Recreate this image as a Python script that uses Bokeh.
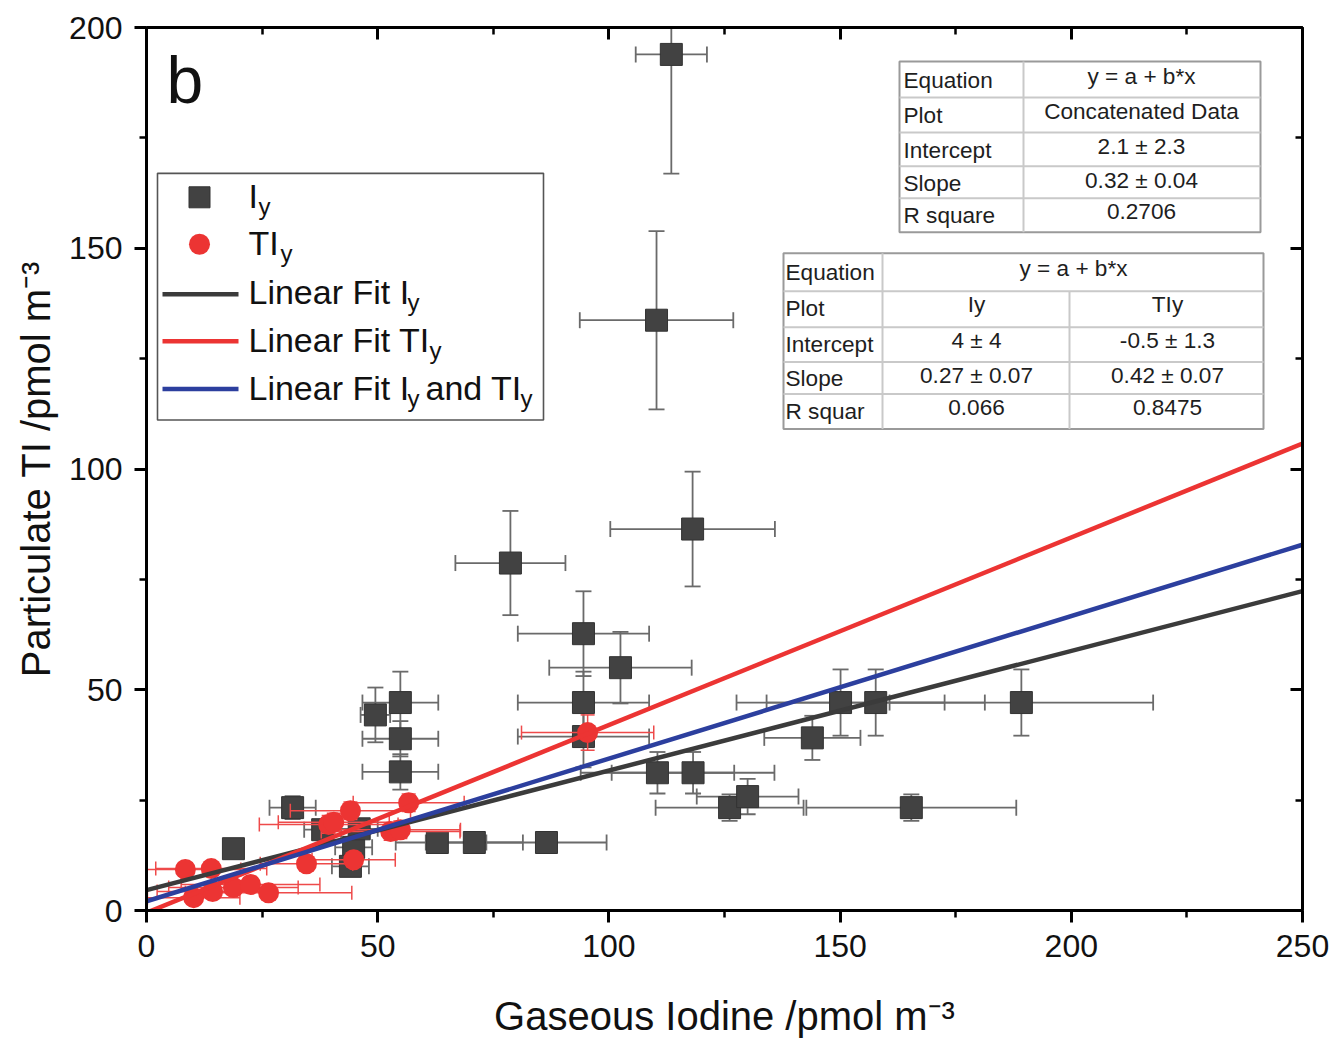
import numpy as np
from bokeh.plotting import figure
from bokeh.models import Range1d, SingleIntervalTicker, LinearAxis
from bokeh.core.properties import value
from bokeh.embed import file_html
from bokeh.resources import INLINE

# ---------------- data ----------------
# Iy (gray squares): gaseous iodine x, particulate TI y, with errors
iy_x = [113.5, 110.3, 118.1, 78.7, 94.5, 102.5, 94.5, 94.5, 110.5, 118.2,
        126.1, 130.0, 144.0, 150.1, 157.7, 189.2, 165.4, 62.9, 70.9, 86.5,
        49.5, 54.9, 54.9, 54.9, 18.8, 31.6, 38.1, 44.8, 44.1, 46.0]
iy_y = [193.9, 133.7, 86.4, 78.7, 62.7, 55.0, 47.1, 39.4, 31.2, 31.2,
        23.3, 25.8, 39.1, 47.1, 47.1, 47.1, 23.3, 15.4, 15.4, 15.4,
        44.3, 47.1, 38.9, 31.4, 14.0, 23.3, 18.3, 14.3, 10.0, 18.5]
iy_xerr = [7.7, 16.6, 17.8, 11.9, 14.2, 15.4, 14.2, 14.2, 16.6, 17.6,
           16.0, 11.0, 10.4, 22.5, 23.6, 28.5, 22.7, 9.0, 10.5, 13.0,
           3.2, 8.2, 8.2, 8.2, 1.0, 5.0, 4.0, 4.0, 4.0, 4.0]
iy_yerr = [27.0, 20.2, 13.0, 11.8, 9.6, 8.1, 7.0, 7.0, 4.7, 4.7,
           3.0, 4.0, 5.0, 7.5, 7.5, 7.5, 3.0, 1.5, 1.5, 1.5,
           6.2, 7.0, 4.0, 4.0, 1.0, 2.6, 1.5, 2.0, 1.5, 2.0]

# TIy (red circles)
tly_x = [8.4, 14.0, 10.2, 14.3, 18.8, 22.5, 26.4, 34.6, 39.4, 40.5,
         44.1, 44.8, 52.8, 54.9, 56.7, 95.4]
tly_y = [9.3, 9.5, 2.9, 4.3, 5.2, 5.9, 4.0, 10.6, 19.5, 20.0,
         22.6, 11.5, 17.9, 18.3, 24.4, 40.3]
tly_xerr = [12, 12, 10, 12, 14, 15, 18, 10, 15, 12,
            13, 9, 15, 13, 12, 14.3]
tly_yerr = [1.5, 1.5, 1.0, 1.0, 1.0, 1.0, 1.0, 1.5, 2.0, 2.0,
            2.0, 1.5, 2.0, 2.0, 2.0, 4.0]

# linear fits as drawn: Iy, TIy, Iy and TIy (concatenated)
fit_intercept = [4.6, -0.5, 2.1]
fit_slope = [0.271, 0.425, 0.323]

# fit result tables
table1_labels = ["Equation", "Plot", "Intercept", "Slope", "R square"]
table1_values = ["y = a + b*x", "Concatenated Data", "2.1 \u00b1 2.3", "0.32 \u00b1 0.04", "0.2706"]
table2_labels = ["Equation", "Plot", "Intercept", "Slope", "R squar"]
table2_equation = "y = a + b*x"
table2_iy = ["Iy", "4 \u00b1 4", "0.27 \u00b1 0.07", "0.066"]
table2_tly = ["TIy", "-0.5 \u00b1 1.3", "0.42 \u00b1 0.07", "0.8475"]

x_label = "Gaseous Iodine /pmol m\u207b\u00b3"
y_label = "Particulate TI /pmol m\u207b\u00b3"

# ---------------- layout ----------------
FONT = "Liberation Sans"
W, H = 1335, 1040
FL, FR, FT, FB = 146, 1302, 27, 911
XMAX, YMAX = 250, 200

def dx(px):
    return (px - FL) / (FR - FL) * XMAX

def dy(py):
    return (FB - py) / (FB - FT) * YMAX

p = figure(width=W, height=H, x_range=Range1d(0, XMAX), y_range=Range1d(0, YMAX),
           output_backend="svg", toolbar_location=None,
           min_border_left=FL, min_border_right=W - FR,
           min_border_top=FT, min_border_bottom=H - FB,
           x_axis_label=x_label, y_axis_label=y_label)
p.xgrid.visible = False
p.ygrid.visible = False
p.outline_line_color = "black"
p.outline_line_width = 2
p.background_fill_color = "white"
p.border_fill_color = "white"

for ax in (p.xaxis[0], p.yaxis[0]):
    ax.ticker = SingleIntervalTicker(interval=50, num_minor_ticks=2)
    ax.axis_line_width = 3
    ax.axis_line_color = "black"
    ax.major_tick_line_width = 3
    ax.minor_tick_line_width = 2.5
    ax.major_tick_out = 12
    ax.major_tick_in = 0
    ax.minor_tick_out = 7
    ax.minor_tick_in = 0
    ax.major_label_text_font = FONT
    ax.major_label_text_font_size = "32px"
    ax.major_label_text_color = "#111111"
    ax.major_label_standoff = 12
    ax.axis_label_text_font = FONT
    ax.axis_label_text_font_size = "40px"
    ax.axis_label_text_font_style = "normal"
    ax.axis_label_text_color = "#111111"
p.xaxis[0].axis_label_standoff = 34
p.yaxis[0].axis_label_standoff = 8

for loc in ("above", "right"):
    ax = LinearAxis(ticker=SingleIntervalTicker(interval=50, num_minor_ticks=2))
    ax.axis_line_width = 3
    ax.major_tick_line_width = 3
    ax.minor_tick_line_width = 2.5
    ax.major_tick_in = 12
    ax.major_tick_out = 0
    ax.minor_tick_in = 7
    ax.minor_tick_out = 0
    ax.major_label_text_font_size = "1px"
    ax.major_label_text_color = None
    ax.major_label_standoff = 0
    p.add_layout(ax, loc)

GRAY = "#424242"
GRAY_ERR = "#6a6a6a"
RED = "#ec3433"
RED_ERR = "#ee4a4a"
BLUE = "#2c3f9e"
BLACK_FIT = "#3b3b3b"


def errorbars(xs, ys, xe, ye, color, cap, lw):
    xs = np.asarray(xs, float)
    ys = np.asarray(ys, float)
    xe = np.asarray(xe, float)
    ye = np.asarray(ye, float)
    p.segment(xs - xe, ys, xs + xe, ys, line_color=color, line_width=lw)
    p.segment(xs, ys - ye, xs, ys + ye, line_color=color, line_width=lw)
    p.scatter(np.concatenate([xs - xe, xs + xe]), np.concatenate([ys, ys]),
              marker="dash", size=cap, angle=np.pi / 2, line_color=color, line_width=lw)
    p.scatter(np.concatenate([xs, xs]), np.concatenate([ys - ye, ys + ye]),
              marker="dash", size=cap, angle=0, line_color=color, line_width=lw)


errorbars(iy_x, iy_y, iy_xerr, iy_yerr, GRAY_ERR, 16, 1.8)
p.scatter(iy_x, iy_y, marker="square", size=22, fill_color=GRAY, line_color="#333333", line_width=1)
errorbars(tly_x, tly_y, tly_xerr, tly_yerr, RED_ERR, 14, 1.5)
p.scatter(tly_x, tly_y, marker="circle", size=21, fill_color=RED, line_color=None)

fit_colors = [BLACK_FIT, RED, BLUE]
xs_fit = np.array([0.0, XMAX])
for a, b, c in zip(fit_intercept, fit_slope, fit_colors):
    p.line(xs_fit, a + b * xs_fit, line_color=c, line_width=4.5)

# ---------------- panel letter ----------------
p.text([dx(166)], [dy(80)], text=["b"], text_font=value(FONT), text_font_size=value("66px"),
       text_color="#111111", text_baseline="middle", text_align="left")

# ---------------- legend ----------------
p.quad(left=[dx(157)], right=[dx(543)], top=[dy(173)], bottom=[dy(420)],
       fill_color="white", line_color="#555555", line_width=1.6)
p.scatter([dx(199)], [dy(197)], marker="square", size=21, fill_color=GRAY, line_color="#333333")
p.scatter([dx(199)], [dy(244)], marker="circle", size=21, fill_color=RED, line_color=None)
for py, c in ((294, BLACK_FIT), (341, RED), (389, BLUE)):
    p.segment([dx(162)], [dy(py)], [dx(238)], [dy(py)], line_color=c, line_width=4.5)

LF = "34px"
SF = "24px"
main_parts = [(248, 196, "I"), (248, 243, "TI"), (248, 292, "Linear Fit I"),
              (248, 340, "Linear Fit TI"), (248, 388, "Linear Fit I"), (425, 388, "and TI")]
sub_parts = [(258, 206, "y"), (280, 253, "y"), (407, 302, "y"), (429, 350, "y"),
             (407, 398, "y"), (520, 398, "y")]
p.text([dx(a) for a, _, _ in main_parts], [dy(b) for _, b, _ in main_parts],
       text=[t for _, _, t in main_parts], text_font=value(FONT), text_font_size=value(LF),
       text_color="#111111", text_baseline="middle", text_align="left")
p.text([dx(a) for a, _, _ in sub_parts], [dy(b) for _, b, _ in sub_parts],
       text=[t for _, _, t in sub_parts], text_font=value(FONT), text_font_size=value(SF),
       text_color="#111111", text_baseline="middle", text_align="left")

# ---------------- tables ----------------
TF = "22.6px"
TC = "#1e1e1e"
BORDER = "#9a9a9a"
INNER = "#c9c9c9"


def hline(x0, x1, py, color, lw):
    p.segment([dx(x0)], [dy(py)], [dx(x1)], [dy(py)], line_color=color, line_width=lw)


def vline(px, y0, y1, color, lw):
    p.segment([dx(px)], [dy(y0)], [dx(px)], [dy(y1)], line_color=color, line_width=lw)


def texts(pxs, pys, strs, align):
    p.text([dx(a) for a in pxs], [dy(b) for b in pys], text=list(strs), text_font=value(FONT),
           text_font_size=value(TF), text_color=TC, text_baseline="middle", text_align=align)


# table 1
p.quad(left=[dx(899)], right=[dx(1260)], top=[dy(61)], bottom=[dy(232)],
       fill_color="white", line_color=BORDER, line_width=2)
for py in (97, 132, 166, 198):
    hline(899, 1260, py, INNER, 2)
vline(1023, 61, 232, INNER, 2)
texts([903] * 5, [80, 115, 150, 183, 215], table1_labels, "left")
texts([1141] * 5, [76, 111, 146, 180, 211], table1_values, "center")

# table 2
p.quad(left=[dx(783)], right=[dx(1263)], top=[dy(253)], bottom=[dy(429)],
       fill_color="white", line_color=BORDER, line_width=2)
for py in (291, 327, 362, 394):
    hline(783, 1263, py, INNER, 2)
vline(882, 253, 429, INNER, 2)
vline(1069, 291, 429, INNER, 2)
texts([785] * 5, [272, 308, 344, 378, 411], table2_labels, "left")
texts([1073], [268], [table2_equation], "center")
texts([976] * 4, [304, 340, 375, 407], table2_iy, "center")
texts([1167] * 4, [304, 340, 375, 407], table2_tly, "center")

open("out.html", "w").write(file_html(p, INLINE))
